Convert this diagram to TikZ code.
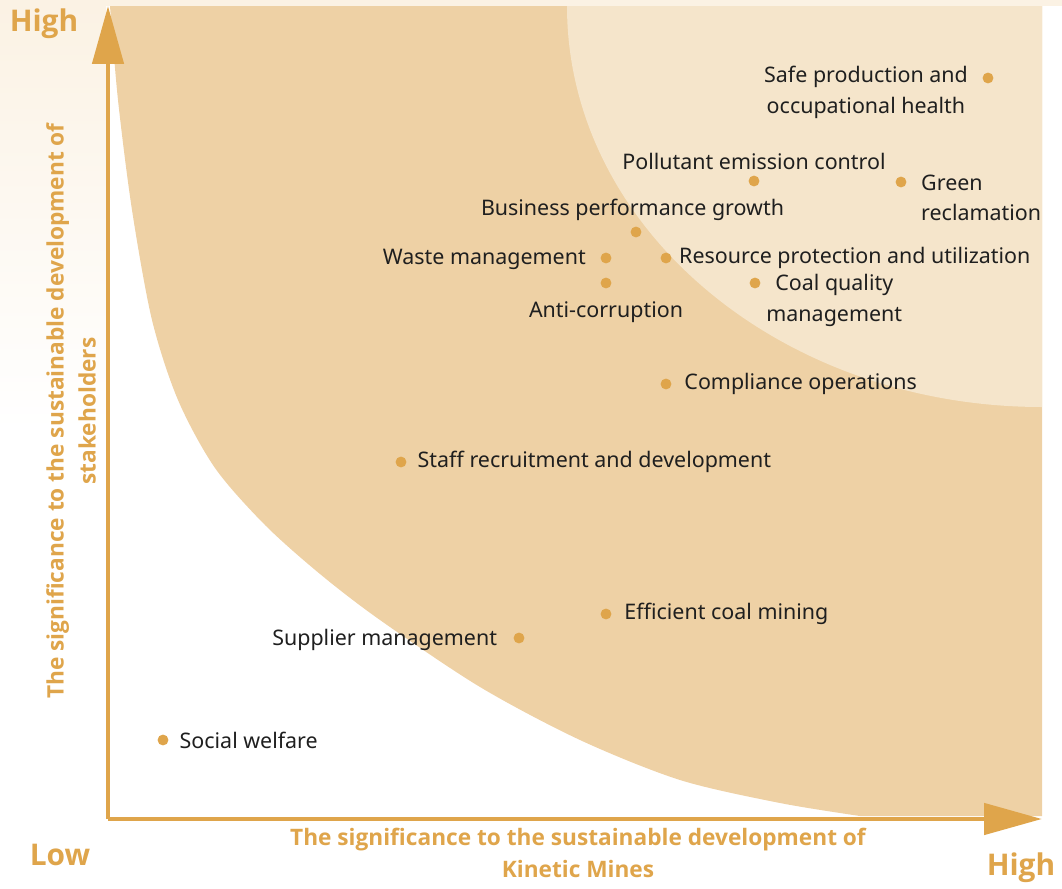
\documentclass[tikz,border=0pt]{standalone}
\usepackage{fontspec}
\setmainfont{Noto Sans}
\IfFontExistsTF{Noto Sans Bold}{\newfontfamily\titleface{Noto Sans Bold}}{%
  \IfFontExistsTF{Open Sans Bold}{\newfontfamily\titleface{Open Sans Bold}}{%
    \newfontfamily\titleface{Liberation Sans Bold}}}
\usetikzlibrary{positioning,arrows.meta}

\definecolor{axisorange}{HTML}{DFA54B}
\definecolor{bandtan}{HTML}{EED1A5}
\definecolor{coretan}{HTML}{F5E5CB}
\definecolor{haze}{HTML}{FBF2E4}

\tikzset{
  issue/.style={circle,fill=axisorange,inner sep=0pt,minimum size=6.2pt},
  issuetext/.style={inner sep=0pt,text=black!88,font=\fontsize{12.2}{17.6}\selectfont},
  axistitle/.style={inner sep=0pt,text=axisorange,align=center,font=\titleface\fontsize{12.9}{18.2}\selectfont},
  endlabel/.style={inner sep=0pt,text=axisorange,font=\titleface\fontsize{17}{20}\selectfont},
  axisline/.style={draw=axisorange,line width=2.8pt,line join=miter,
    arrows={-Triangle[length=33pt,width=17.6pt]}}
}

\begin{document}
\begin{tikzpicture}[x=0.02cm,y=-0.02cm]
  \useasboundingbox (0,0) rectangle (1062,889);
  % background haze
  \fill[haze] (0,0) rectangle (1062,6);
  \fill[top color=haze,bottom color=white] (0,6) rectangle (106,430);

  % significance bands
  \fill[bandtan] (110,6) -- (1042,6) -- (1042,816) -- (860,816)
    plot[smooth] coordinates {(860,816) (780,803) (680,780) (580,740) (480,687)
      (380,620) (320,574) (265,525) (215,468) (178,400) (152,320) (132,210)
      (118,100) (110,6)} -- cycle;
  \begin{scope}
    \clip (108,6) rectangle (1042,818);
    \fill[coretan] (1042,6) ellipse [x radius=475, y radius=401];
  \end{scope}

  % axes
  \coordinate (origin) at (108,819);
  \coordinate (ytop) at (108,6);
  \coordinate (xend) at (1042,819);
  \draw[axisline] (origin) -- (ytop);
  \draw[axisline] (origin) -- (xend);

  \node[endlabel] (yhigh) at (44,24) {High};
  \node[endlabel] (low) at (60,855) {Low};
  \node[endlabel] (xhigh) at (1021,868) {High};
  \node[axistitle] (xtitle) at (578,853)
    {The significance to the sustainable development of\\Kinetic Mines};
  \node[axistitle,rotate=90] (ytitle) at (71,411)
    {The significance to the sustainable development of\\stakeholders};

  % issues
  \node[issue] (safe) at (988,78) {};
  \node[issue] (pollutant) at (754,181) {};
  \node[issue] (green) at (901,182) {};
  \node[issue] (business) at (636,232) {};
  \node[issue] (waste) at (606,258) {};
  \node[issue] (resource) at (666,258) {};
  \node[issue] (anti) at (606,283) {};
  \node[issue] (coal) at (755,283) {};
  \node[issue] (compliance) at (666,384) {};
  \node[issue] (staff) at (401,462) {};
  \node[issue] (efficient) at (606,614) {};
  \node[issue] (supplier) at (519,638) {};
  \node[issue] (social) at (163,740) {};

  \node[issuetext,align=center,left=8pt of safe,yshift=-8pt] (safetext)
    {Safe production and\\occupational health};
  \node[issuetext,above=3pt of pollutant] (pollutanttext) {Pollutant emission control};
  \node[issuetext,align=left,right=8pt of green,yshift=-9pt] (greentext)
    {Green\\reclamation};
  \node[issuetext,above=3pt of business,xshift=-2pt] (businesstext) {Business performance growth};
  \node[issuetext,left=8pt of waste,yshift=-1pt] (wastetext) {Waste management};
  \node[issuetext,right=4pt of resource] (resourcetext) {Resource protection and utilization};
  \node[issuetext,below=7pt of anti] (antitext) {Anti-corruption};
  \node[issuetext,align=center,right=3pt of coal,yshift=-10pt] (coaltext)
    {Coal quality\\management};
  \node[issuetext,right=7pt of compliance] (compliancetext) {Compliance operations};
  \node[issuetext,right=6pt of staff] (stafftext) {Staff recruitment and development};
  \node[issuetext,right=7pt of efficient] (efficienttext) {Efficient coal mining};
  \node[issuetext,left=9pt of supplier,yshift=-1pt] (suppliertext) {Supplier management};
  \node[issuetext,right=6pt of social] (socialtext) {Social welfare};
\end{tikzpicture}
\end{document}
